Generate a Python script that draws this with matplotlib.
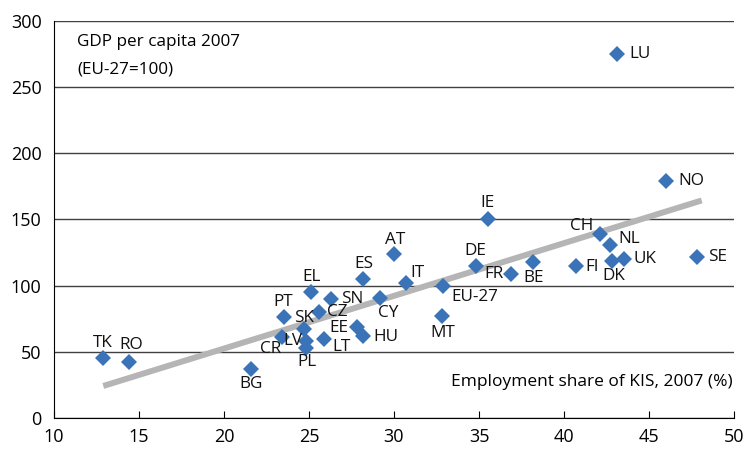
import numpy as np
import matplotlib
matplotlib.use("Agg")
import matplotlib.pyplot as plt

plt.rcParams['font.family'] = ['Open Sans', 'DejaVu Sans']

# country codes, employment share of KIS 2007 (%), GDP per capita 2007 (EU-27=100)
countries = ['TK', 'RO', 'BG', 'CR', 'PT', 'LV', 'PL', 'SK', 'EL', 'CZ', 'SN',
             'LT', 'EE', 'HU', 'ES', 'AT', 'CY', 'IT', 'EU-27', 'MT', 'DE', 'IE',
             'FR', 'BE', 'FI', 'CH', 'NL', 'DK', 'UK', 'NO', 'SE', 'LU']
kis_share = [12.9, 14.4, 21.6, 23.4, 23.5, 24.8, 24.8, 24.7, 25.1, 25.6, 26.3,
             25.9, 27.8, 28.2, 28.2, 30.0, 29.2, 30.7, 32.9, 32.8, 34.8, 35.5,
             36.9, 38.2, 40.7, 42.1, 42.7, 42.8, 43.5, 46.0, 47.8, 43.1]
gdp_pc = [45, 42, 37, 61, 76, 58, 53, 67, 95, 80, 90,
          60, 69, 62, 105, 124, 91, 102, 100, 77, 115, 150,
          109, 118, 115, 139, 131, 119, 120, 179, 122, 275]

# fitted trend line
trend_x = [12.9, 48.1]
trend_y = [24.2, 164.4]

# label placement (pixel offset from marker, alignment)
label_pos = {
    'TK': (0, 15, 'center'), 'RO': (2, 17, 'center'), 'BG': (0, -15, 'center'),
    'CR': (-11, -12, 'center'), 'PT': (0, 15, 'center'), 'LV': (-3, 0, 'right'),
    'PL': (1, -14, 'center'), 'SK': (0, 11, 'center'), 'EL': (1, 15, 'center'),
    'CZ': (8, 0, 'left'), 'SN': (10, 0, 'left'), 'LT': (8, -8, 'left'),
    'EE': (-8, -1, 'right'), 'HU': (10, -1, 'left'), 'ES': (0, 15, 'center'),
    'AT': (1, 14, 'center'), 'CY': (8, -15, 'center'), 'IT': (12, 10, 'center'),
    'EU-27': (8, -11, 'left'), 'MT': (1, -17, 'center'), 'DE': (0, 15, 'center'),
    'IE': (0, 16, 'center'), 'FR': (-8, 0, 'right'), 'BE': (0, -16, 'center'),
    'FI': (9, -1, 'left'), 'CH': (-6, 8, 'right'), 'NL': (8, 6, 'left'),
    'DK': (2, -15, 'center'), 'UK': (10, 0, 'left'), 'NO': (12, 0, 'left'),
    'SE': (11, 0, 'left'), 'LU': (13, 0, 'left'),
}

fig = plt.figure(figsize=(7.47, 4.51), dpi=100)
ax = fig.add_axes([54 / 747, 33 / 451, 680 / 747, 397 / 451])

ax.set_xlim(10, 50)
ax.set_ylim(0, 300)
ax.set_xticks(np.arange(10, 51, 5))
ax.set_yticks(np.arange(0, 301, 50))

ax.grid(axis='y', color='#404040', linewidth=1.0)
ax.set_axisbelow(True)
for side in ['top', 'right']:
    ax.spines[side].set_visible(False)
ax.spines['left'].set_color('black')
ax.spines['bottom'].set_color('black')

ax.tick_params(axis='x', direction='in', length=5, width=0.8, pad=7,
               labelsize=13)
ax.tick_params(axis='y', length=0, pad=9, labelsize=13)

ax.plot(trend_x, trend_y, color='#b5b5b5', linewidth=4.3,
        solid_capstyle='butt', zorder=2)
ax.plot(kis_share, gdp_pc, linestyle='none', marker='D', markersize=8.5,
        color='#3a73b7', markeredgewidth=0, zorder=3)

for name, xv, yv in zip(countries, kis_share, gdp_pc):
    dx, dy, ha = label_pos[name]
    ax.annotate(name, (xv, yv), xytext=(dx, dy), textcoords='offset pixels',
                ha=ha, va='center', fontsize=12.3, color='#111111')

ax.text(0.034, 0.947, 'GDP per capita 2007', transform=ax.transAxes,
        ha='left', va='center', fontsize=12.3)
ax.text(0.034, 0.877, '(EU-27=100)', transform=ax.transAxes,
        ha='left', va='center', fontsize=12.3)
ax.text(0.998, 0.091, 'Employment share of KIS, 2007 (%)',
        transform=ax.transAxes, ha='right', va='center', fontsize=12.5)

fig.savefig('out.png', dpi=100)
